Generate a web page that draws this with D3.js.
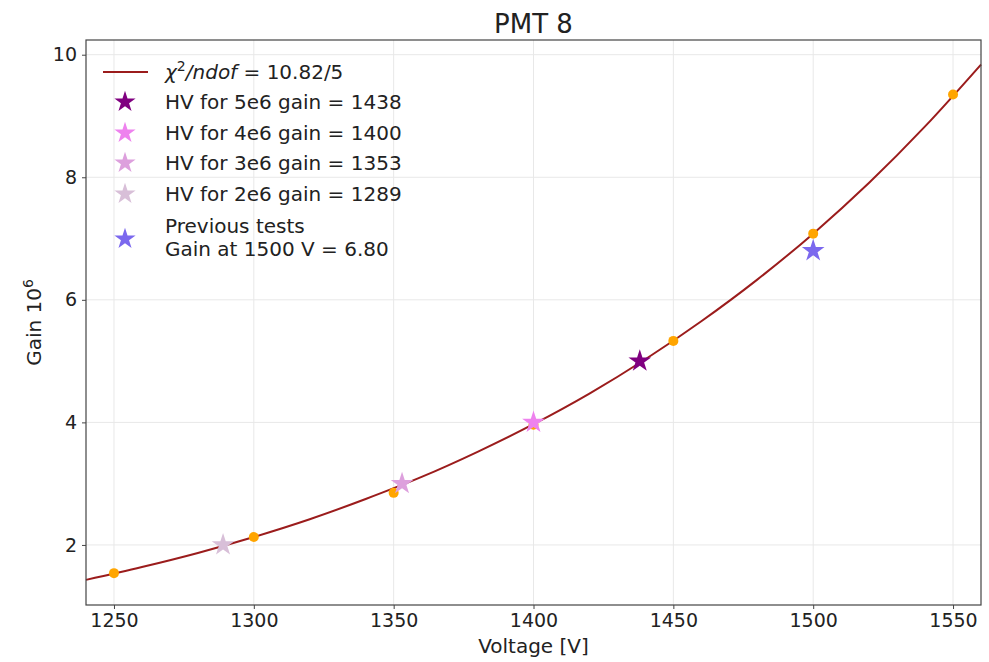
<!DOCTYPE html>
<html>
<head>
<meta charset="utf-8">
<script src="https://cdn.jsdelivr.net/npm/d3@7"></script>
<style>
  body { margin: 0; background: #fff; }
  svg { font-family: "DejaVu Sans", sans-serif; }
</style>
</head>
<body>
<div id="chart"></div>
<script>
// measured points (orange dots)
const voltages = [1250, 1300, 1350, 1400, 1450, 1500, 1550];
const gains = [1.54, 2.13, 2.85, 3.96, 5.33, 7.08, 9.35];

// fit curve
const fitV = [1240, 1260, 1280, 1300, 1320, 1340, 1360, 1380, 1400, 1420, 1440, 1460, 1480, 1500, 1520, 1540, 1560];
const fitG = [1.43, 1.64, 1.87, 2.13, 2.42, 2.75, 3.11, 3.52, 3.97, 4.47, 5.03, 5.65, 6.33, 7.08, 7.91, 8.83, 9.84];

// HV working points
const starV = [1438, 1400, 1353, 1289];
const starG = [5, 4, 3, 2];
const starColors = ['#800080', '#ee82ee', '#dda0dd', '#d8bfd8'];
const starLabels = ['HV for 5e6 gain = 1438', 'HV for 4e6 gain = 1400', 'HV for 3e6 gain = 1353', 'HV for 2e6 gain = 1289'];

const prevV = 1500;
const prevG = 6.80;

const xTicks = [1250, 1300, 1350, 1400, 1450, 1500, 1550];
const yTicks = [2, 4, 6, 8, 10];

const margin = {top: 40, right: 8, bottom: 57, left: 86};
const W = 989, H = 662;
const width = W - margin.left - margin.right;
const height = H - margin.top - margin.bottom;

const svg = d3.select('#chart').append('svg')
    .attr('width', W)
    .attr('height', H);

const g = svg.append('g')
    .attr('transform', 'translate(' + margin.left + ',' + margin.top + ')');

let x = d3.scaleLinear().domain([1240, 1560]).range([0, width]);
let y = d3.scaleLinear().domain([1.02, 10.24]).range([height, 0]);

// grid
g.append('g').selectAll('line').data(xTicks).enter().append('line')
    .attr('x1', d => x(d)).attr('x2', d => x(d))
    .attr('y1', 0).attr('y2', height)
    .attr('stroke', '#e8e8e8').attr('stroke-width', 1);
g.append('g').selectAll('line').data(yTicks).enter().append('line')
    .attr('y1', d => y(d)).attr('y2', d => y(d))
    .attr('x1', 0).attr('x2', width)
    .attr('stroke', '#e8e8e8').attr('stroke-width', 1);

// axes
const xAxis = g.append('g')
    .attr('transform', 'translate(0,' + height + ')')
    .call(d3.axisBottom(x).tickValues(xTicks).tickSize(4).tickPadding(5).tickFormat(d3.format('d')));
const yAxis = g.append('g')
    .call(d3.axisLeft(y).tickValues(yTicks).tickSize(4).tickPadding(5).tickFormat(d3.format('d')));
[xAxis, yAxis].forEach(a => {
  a.select('.domain').remove();
  a.selectAll('text').attr('font-size', 19).attr('fill', '#222').attr('font-family', '"DejaVu Sans", sans-serif');
  a.selectAll('line').attr('stroke', '#444');
});

// fit line
g.append('path')
    .datum(fitV.map((v, i) => [v, fitG[i]]))
    .attr('fill', 'none')
    .attr('stroke', '#9b1c1c')
    .attr('stroke-width', 2)
    .attr('d', d3.line().x(d => x(d[0])).y(d => y(d[1])).curve(d3.curveMonotoneX));

// data points
g.append('g').selectAll('circle').data(voltages).enter().append('circle')
    .attr('cx', d => x(d))
    .attr('cy', (d, i) => y(gains[i]))
    .attr('r', 5)
    .attr('fill', '#ffa500');

const star = d3.symbol().type(d3.symbolStar).size(160);

// HV stars
g.append('g').selectAll('path').data(starV).enter().append('path')
    .attr('d', star)
    .attr('transform', (d, i) => 'translate(' + x(d) + ',' + y(starG[i]) + ')')
    .attr('fill', (d, i) => starColors[i]);

// previous test star
g.append('path')
    .attr('d', star)
    .attr('transform', 'translate(' + x(prevV) + ',' + y(prevG) + ')')
    .attr('fill', '#7b68ee');

// frame
g.append('rect')
    .attr('width', width).attr('height', height)
    .attr('fill', 'none').attr('stroke', '#444').attr('stroke-width', 1.2);

// legend
const leg = svg.append('g').attr('transform', 'translate(103,0)');
const fs = 20;
leg.append('line')
    .attr('x1', 0).attr('x2', 45).attr('y1', 72).attr('y2', 72)
    .attr('stroke', '#9b1c1c').attr('stroke-width', 2);
let chi = leg.append('text').attr('x', 62).attr('y', 79).attr('font-size', fs).attr('fill', '#222');
chi.append('tspan').attr('font-style', 'italic').text('χ');
chi.append('tspan').attr('dy', -8).attr('font-size', 14).text('2');
chi.append('tspan').attr('dy', 8).attr('font-style', 'italic').text('/ndof');
chi.append('tspan').text(' = 10.82/5');

const rowY = [102, 133, 163, 194];
starLabels.forEach((lab, i) => {
  leg.append('path')
      .attr('d', d3.symbol().type(d3.symbolStar).size(140))
      .attr('transform', 'translate(22,' + rowY[i] + ')')
      .attr('fill', starColors[i]);
  leg.append('text')
      .attr('x', 62).attr('y', rowY[i] + 7)
      .attr('font-size', fs).attr('fill', '#222')
      .text(lab);
});
leg.append('path')
    .attr('d', d3.symbol().type(d3.symbolStar).size(140))
    .attr('transform', 'translate(22,239)')
    .attr('fill', '#7b68ee');
leg.append('text').attr('x', 62).attr('y', 233).attr('font-size', fs).attr('fill', '#222').text('Previous tests');
leg.append('text').attr('x', 62).attr('y', 256).attr('font-size', fs).attr('fill', '#222').text('Gain at 1500 V = 6.80');

// title and axis labels
svg.append('text')
    .attr('x', margin.left + width / 2).attr('y', 33)
    .attr('text-anchor', 'middle').attr('font-size', 26).attr('fill', '#222')
    .text('PMT 8');
svg.append('text')
    .attr('x', margin.left + width / 2).attr('y', 653)
    .attr('text-anchor', 'middle').attr('font-size', 20).attr('fill', '#222')
    .text('Voltage [V]');
let yl = svg.append('text')
    .attr('transform', 'translate(41,' + (margin.top + height / 2) + ') rotate(-90)')
    .attr('text-anchor', 'middle').attr('font-size', 20).attr('fill', '#222');
yl.append('tspan').text('Gain 10');
yl.append('tspan').attr('dy', -8).attr('font-size', 14).text('6');
</script>
</body>
</html>
